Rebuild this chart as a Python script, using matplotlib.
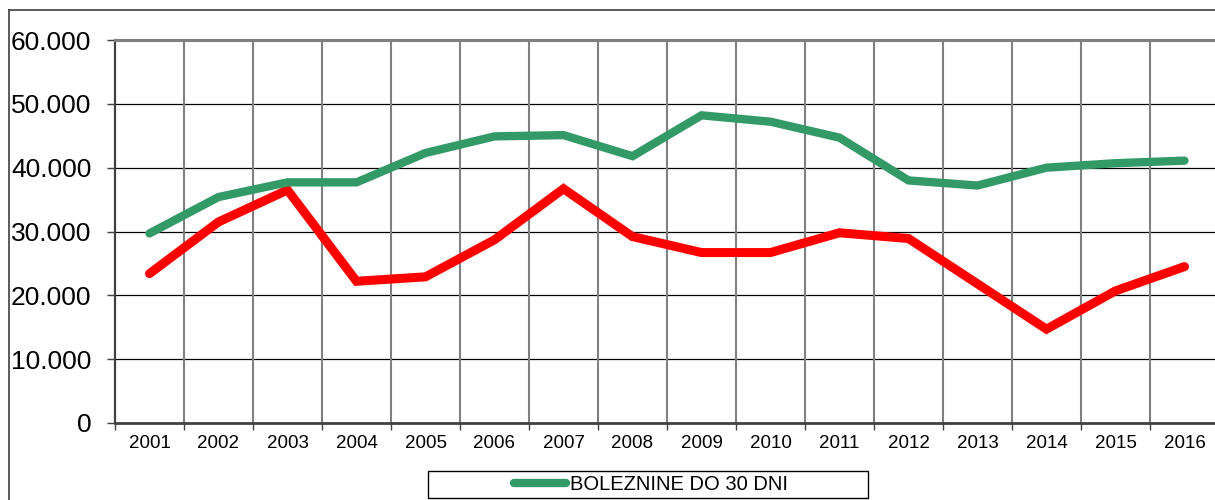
import matplotlib
matplotlib.use('Agg')
import matplotlib.pyplot as plt
import matplotlib.patches as mpatches
from matplotlib.lines import Line2D
import numpy as np

# ── Data ──────────────────────────────────────────────────────────────────────
YEARS = ['2001', '2002', '2003', '2004', '2005', '2006', '2007', '2008',
         '2009', '2010', '2011', '2012', '2013', '2014', '2015', '2016']
DO_30_DNI = [29700, 35400, 37700, 37700, 42300, 44900, 45100, 41800,
             48200, 47200, 44700, 38000, 37200, 40000, 40700, 41100]
NAD_30_DNI = [23400, 31500, 36500, 22200, 22900, 28700, 36700, 29200,
              26700, 26700, 29800, 28900, 21800, 14700, 20700, 24500]
Y_TICKS = [0, 10000, 20000, 30000, 40000, 50000, 60000]
Y_LABELS = ['0', '10.000', '20.000', '30.000', '40.000', '50.000', '60.000']
LEGEND_LABEL = 'BOLEZNINE DO 30 DNI'

# ── Colors ────────────────────────────────────────────────────────────────────
C_GREEN = '#339966'
C_RED = '#FF0000'
C_VGRID = '#808080'
C_FRAME = '#404040'

plt.rcParams['font.family'] = ['Liberation Sans', 'DejaVu Sans']

W, H = 1215, 500
fig = plt.figure(figsize=(W / 100, H / 100), dpi=100, facecolor='white')

# outer chart frame (cropped on the right and bottom)
fig.add_artist(Line2D([9 / W, 9 / W], [1 - 10 / H, 0], transform=fig.transFigure,
                      color=C_FRAME, linewidth=1.2))
fig.add_artist(Line2D([9 / W, 1], [1 - 10 / H, 1 - 10 / H], transform=fig.transFigure,
                      color=C_FRAME, linewidth=1.2))

# plot area, runs past the right edge of the image
ax = fig.add_axes([115 / W, 77 / H, 1104 / W, 383 / H])
ax.set_facecolor('white')

n = len(YEARS)
x = np.arange(n) + 0.5

for g in Y_TICKS[1:-1]:
    ax.axhline(g, color='black', linewidth=0.9, zorder=1)
for b in range(1, n):
    ax.axvline(b, color=C_VGRID, linewidth=1.5, zorder=1)

ax.plot(x, NAD_30_DNI, color=C_RED, linewidth=6.5, solid_capstyle='round',
        solid_joinstyle='miter', zorder=3)
ax.plot(x, DO_30_DNI, color=C_GREEN, linewidth=6.0, solid_capstyle='round',
        solid_joinstyle='miter', zorder=3)

ax.set_xlim(0, n)
ax.set_ylim(0, 60000)

ax.set_yticks(Y_TICKS)
ax.set_yticklabels(Y_LABELS, fontsize=19)
ax.tick_params(axis='y', length=6, width=1.0, color=C_FRAME, pad=11)

ax.set_xticks(np.arange(0, n + 1))
ax.set_xticklabels([])
ax.set_xticks(x, minor=True)
ax.set_xticklabels(YEARS, minor=True, fontsize=13.5)
ax.tick_params(axis='x', which='major', length=5, width=1.0, color=C_FRAME)
ax.tick_params(axis='x', which='minor', length=0, pad=9)

ax.spines['top'].set_color(C_VGRID)
ax.spines['top'].set_linewidth(2.2)
ax.spines['left'].set_color(C_FRAME)
ax.spines['left'].set_linewidth(1.6)
ax.spines['bottom'].set_color(C_FRAME)
ax.spines['bottom'].set_linewidth(2.0)
ax.spines['right'].set_visible(False)

# legend box
fig.add_artist(mpatches.Rectangle((428 / W, 1 - 498 / H), 440 / W, 27 / H,
                                  transform=fig.transFigure, facecolor='white',
                                  edgecolor='black', linewidth=1.0))
handle = Line2D([], [], color=C_GREEN, linewidth=6.0, solid_capstyle='round')
fig.legend(handles=[handle], labels=[LEGEND_LABEL], loc='center',
           bbox_to_anchor=(651 / W, 1 - 484.5 / H), frameon=False,
           prop={'family': ['Liberation Sans Narrow', 'Liberation Sans'], 'size': 14.5},
           handlelength=2.6, handletextpad=0.2, borderpad=0)

fig.savefig('out.png', dpi=100, facecolor='white')
